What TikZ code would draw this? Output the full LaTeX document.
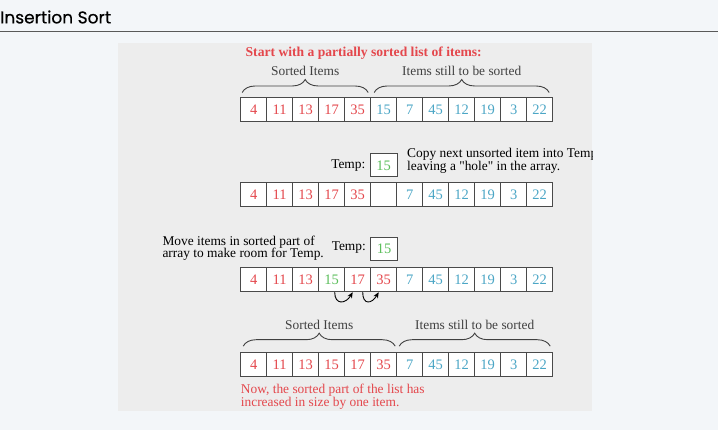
\documentclass[tikz,border=0pt]{standalone}
\usepackage{fontspec}
\setmainfont{Liberation Serif}[Ligatures=TeXOff]
\newfontfamily\titlefont{Poppins}[FakeBold=0.5]
\usetikzlibrary{positioning,decorations.pathreplacing,arrows.meta}
\definecolor{pagebg}{HTML}{F3F6F9}
\definecolor{panelbg}{HTML}{EDEDED}
\definecolor{itemred}{HTML}{E4474C}
\definecolor{itemblue}{HTML}{4BA6C6}
\definecolor{itemgreen}{HTML}{5CBF5C}
\definecolor{cellline}{HTML}{4A4A4A}
\begin{document}
\begin{tikzpicture}[x=1pt,y=1pt,
  cell/.style={draw=cellline,line width=1pt,fill=white,minimum width=26pt,minimum height=24pt,inner sep=0pt,font=\fontsize{14.5}{14.5}\selectfont},
  note/.style={font=\fontsize{13.4}{12.8}\selectfont,align=left,inner sep=0pt},
  brace/.style={decorate,decoration={brace,amplitude=13pt},line width=0.9pt,black!75},
  movearrow/.style={-{Stealth[length=6pt,width=5pt]},line width=0.9pt}]
\useasboundingbox (0,0) rectangle (718,430);
\fill[pagebg] (0,0) rectangle (718,430);
% Title bar
\node[anchor=west,inner sep=0pt,font=\titlefont\fontsize{17}{17}\selectfont] (title) at (0,413) {Insertion Sort};
\draw[gray!70!black,line width=1.2pt] (0,398.5) -- (718,398.5);
% Panel
\fill[panelbg] (118,19) rectangle (592,387);

% Step 1: partially sorted list
\node[note,text=itemred,font=\fontsize{13.6}{13}\selectfont\bfseries] (start) at (363.7,376.7) {Start with a partially sorted list of items:};
\foreach \v/\c [count=\i] in {4/itemred,11/itemred,13/itemred,17/itemred,35/itemred,15/itemblue,7/itemblue,45/itemblue,12/itemblue,19/itemblue,3/itemblue,22/itemblue}
  \node[cell,text=\c] (a\i) at ({227.7+26*\i},320) {\v};
\draw[brace] ([xshift=2pt,yshift=5pt]a1.north west) -- ([xshift=-3pt,yshift=5pt]a5.north east)
  node[midway,above=16pt,note] {Sorted Items};
\draw[brace] ([xshift=4pt,yshift=5pt]a6.north west) -- ([xshift=-4pt,yshift=5pt]a12.north east)
  node[midway,above=16pt,note] {Items still to be sorted};

% Step 2: copy into Temp
\node[cell,minimum width=27pt,minimum height=23pt,text=itemgreen] (tmp1) at (383.5,264.5) {15};
\node[note,left=4pt of tmp1] (tmplbl1) {Temp:};
\begin{scope}
\clip (118,19) rectangle (592,387);
\node[note,anchor=west] (copytxt) at (407,269) {Copy next unsorted item into Temp\\leaving a "hole" in the array.};
\end{scope}
\foreach \v/\c [count=\i] in {4/itemred,11/itemred,13/itemred,17/itemred,35/itemred,{}/white,7/itemblue,45/itemblue,12/itemblue,19/itemblue,3/itemblue,22/itemblue}
  \node[cell,text=\c] (b\i) at ({227.7+26*\i},235) {\v};

% Step 3: shift sorted items
\node[note,anchor=west] (movetxt) at (162.3,181.7) {Move items in sorted part of\\array to make room for Temp.};
\node[cell,minimum width=27pt,minimum height=23pt,text=itemgreen] (tmp2) at (384,181.3) {15};
\node[note,left=4pt of tmp2,yshift=1.5pt] (tmplbl2) {Temp:};
\foreach \v/\c [count=\i] in {4/itemred,11/itemred,13/itemred,15/itemgreen,17/itemred,35/itemred,7/itemblue,45/itemblue,12/itemblue,19/itemblue,3/itemblue,22/itemblue}
  \node[cell,text=\c] (c\i) at ({227.7+26*\i},150.3) {\v};
\draw[movearrow] ([xshift=3pt]c4.south) .. controls +(0,-13) and +(-7,-12) .. ([xshift=-5pt]c5.south);
\draw[movearrow] ([xshift=5pt]c5.south) .. controls +(0,-13) and +(-7,-12) .. ([xshift=-5pt]c6.south);

% Step 4: sorted part grown by one
\foreach \v/\c [count=\i] in {4/itemred,11/itemred,13/itemred,15/itemred,17/itemred,35/itemred,7/itemblue,45/itemblue,12/itemblue,19/itemblue,3/itemblue,22/itemblue}
  \node[cell,text=\c] (d\i) at ({227.7+26*\i},65.3) {\v};
\draw[brace] ([xshift=3pt,yshift=6pt]d1.north west) -- ([xshift=-2pt,yshift=6pt]d6.north east)
  node[midway,above=16pt,note] {Sorted Items};
\draw[brace] ([xshift=3pt,yshift=6pt]d7.north west) -- ([xshift=-3pt,yshift=6pt]d12.north east)
  node[midway,above=16pt,note] {Items still to be sorted};
\node[note,anchor=west,text=itemred] (nowtxt) at (240.7,33) {Now, the sorted part of the list has\\increased in size by one item.};
\end{tikzpicture}
\end{document}
